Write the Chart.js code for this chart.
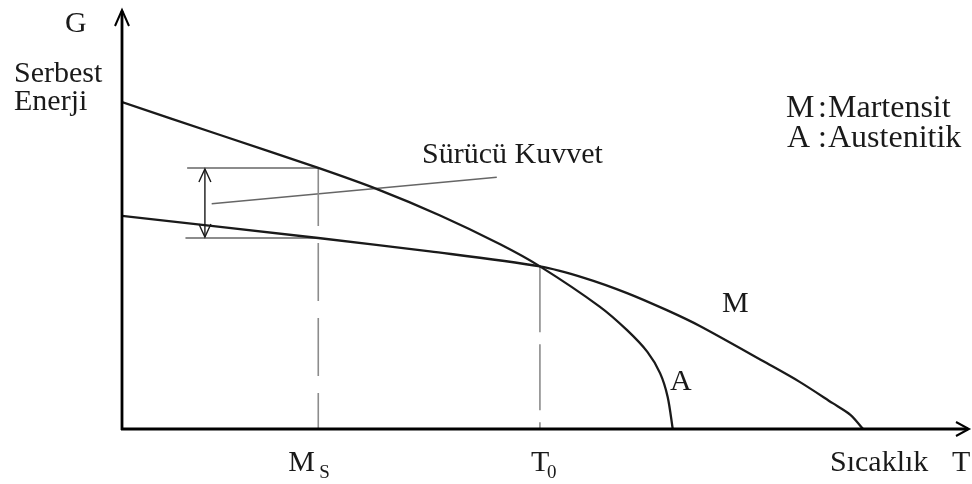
<!DOCTYPE html>
<html>
<head>
<meta charset="utf-8">
<script src="https://cdn.jsdelivr.net/npm/chart.js@4"></script>
<style>
  html, body { margin: 0; padding: 0; background: #ffffff; }
  #wrap { width: 972px; height: 484px; position: relative; }
</style>
</head>
<body>
<div id="wrap"><canvas id="c" width="972" height="484"></canvas></div>
<script>
// Free energy (G) versus temperature (T), schematic units 0..100
const tempA   = [0, 11.6, 23.2, 30.3, 37.6, 44.7, 49.4, 56.5, 59.7, 62.1, 63.6, 64.5, 65.1];
const energyA = [78.4, 70.5, 62.6, 57.4, 51.2, 44.3, 39.0, 29.3, 23.7, 18.5, 13.4, 7.7, 0];
const tempM   = [0, 23.2, 36.4, 49.4, 54.7, 59.7, 64.4, 68.3, 76.2, 80.1, 84.0, 86.1, 87.6];
const energyM = [51.1, 45.8, 42.6, 39.0, 36.2, 32.6, 28.5, 24.7, 15.8, 11.3, 6.2, 3.4, 0];

// Characteristic temperatures
const tempMs = 23.2;
const tempT0 = 49.4;
const energyAatMs = 62.6;
const energyMatMs = 45.8;
const energyAtT0 = 39.0;

// Driving force bracket
const bracketStart = 7.7;
const bracketArrowT = 9.8;
const pointerFrom = [10.6, 54.0];
const pointerTo = [44.3, 60.4];

const FONT = "'Liberation Serif', 'Times New Roman', serif";
const INK = '#1a1a1a';
const GREY = '#8c8c8c';

const zip = (xs, ys) => xs.map((x, i) => ({ x, y: ys[i] }));

const curve = (data, label) => ({
  label, data, showLine: true, pointRadius: 0,
  borderColor: INK, borderWidth: 2.3, tension: 0.3, fill: false
});
const guide = (data, color, width, dash) => ({
  data, showLine: true, pointRadius: 0, borderColor: color,
  borderWidth: width, borderDash: dash || [], tension: 0, fill: false
});

const overlay = {
  id: 'overlay',
  afterDatasetsDraw(chart) {
    const { ctx, chartArea: ca, scales: { x, y } } = chart;
    ctx.save();
    // axes with open arrowheads
    ctx.strokeStyle = '#000';
    ctx.lineWidth = 2.8;
    ctx.lineCap = 'butt';
    ctx.beginPath();
    ctx.moveTo(ca.left, ca.bottom + 1);
    ctx.lineTo(ca.left, ca.top - 1);
    ctx.moveTo(ca.left - 1, ca.bottom);
    ctx.lineTo(ca.right, ca.bottom);
    ctx.stroke();
    ctx.lineWidth = 2;
    ctx.beginPath();
    ctx.moveTo(ca.left - 7, ca.top + 14);
    ctx.lineTo(ca.left, ca.top - 2);
    ctx.lineTo(ca.left + 7, ca.top + 14);
    ctx.moveTo(ca.right - 12, ca.bottom - 7);
    ctx.lineTo(ca.right + 1, ca.bottom);
    ctx.lineTo(ca.right - 12, ca.bottom + 7);
    ctx.stroke();

    // double arrow heads of the driving force bracket
    const ax = x.getPixelForValue(bracketArrowT);
    const yTop = y.getPixelForValue(energyAatMs);
    const yBot = y.getPixelForValue(energyMatMs);
    ctx.strokeStyle = INK;
    ctx.lineWidth = 1.4;
    ctx.beginPath();
    ctx.moveTo(ax - 6, yTop + 14); ctx.lineTo(ax, yTop + 1); ctx.lineTo(ax + 6, yTop + 14);
    ctx.moveTo(ax - 6, yBot - 14); ctx.lineTo(ax, yBot - 1); ctx.lineTo(ax + 6, yBot - 14);
    ctx.stroke();

    // text
    ctx.fillStyle = INK;
    ctx.textBaseline = 'alphabetic';
    ctx.textAlign = 'left';
    ctx.font = '30px ' + FONT;
    ctx.fillText('G', 65, 32);
    ctx.fillText('Serbest', 14, 82);
    ctx.fillText('Enerji', 14, 110);
    ctx.fillText('Sürücü Kuvvet', 422, 163);
    ctx.fillText('M', 722, 312);
    ctx.fillText('A', 670, 390);

    const base = ca.bottom + 42;
    const msX = x.getPixelForValue(tempMs);
    const t0X = x.getPixelForValue(tempT0);
    ctx.fillText('M', msX - 30, base);
    ctx.fillText('T', t0X - 9, base);
    ctx.fillText('Sıcaklık', 830, base);
    ctx.fillText('T', 952, base);

    ctx.font = '32px ' + FONT;
    ctx.fillText('M', 786, 117);
    ctx.fillText(':', 818, 117);
    ctx.fillText('Martensit', 828, 117);
    ctx.fillText('A', 787, 147);
    ctx.fillText(':', 818, 147);
    ctx.fillText('Austenitik', 828, 147);

    ctx.font = '19px ' + FONT;
    ctx.fillText('S', msX + 1, base + 7);
    ctx.fillText('0', t0X + 7, base + 7);
    ctx.restore();
  }
};

new Chart(document.getElementById('c'), {
  type: 'scatter',
  data: {
    datasets: [
      curve(zip(tempA, energyA), 'A'),
      curve(zip(tempM, energyM), 'M'),
      guide([{ x: bracketStart, y: energyAatMs }, { x: tempMs, y: energyAatMs }], GREY, 2),
      guide([{ x: bracketStart - 0.2, y: energyMatMs }, { x: tempMs, y: energyMatMs }], GREY, 2),
      guide([{ x: tempMs, y: energyAatMs }, { x: tempMs, y: 0 }], GREY, 1.6, [58, 17]),
      guide([{ x: tempT0, y: energyAtT0 }, { x: tempT0, y: 0 }], GREY, 1.6, [66, 12]),
      guide([{ x: pointerFrom[0], y: pointerFrom[1] }, { x: pointerTo[0], y: pointerTo[1] }], '#666666', 1.5),
      guide([{ x: bracketArrowT, y: energyAatMs }, { x: bracketArrowT, y: energyMatMs }], INK, 1.4)
    ]
  },
  options: {
    responsive: false,
    animation: false,
    layout: { padding: { left: 122, right: 4, top: 12, bottom: 55 } },
    plugins: { legend: { display: false }, tooltip: { enabled: false } },
    scales: {
      x: { type: 'linear', min: 0, max: 100, display: false },
      y: { type: 'linear', min: 0, max: 100, display: false }
    }
  },
  plugins: [overlay]
});
</script>
</body>
</html>
